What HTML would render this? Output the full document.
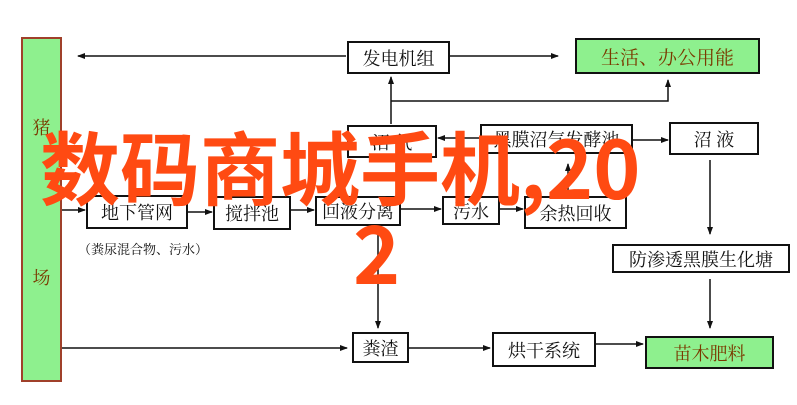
<!DOCTYPE html>
<html><head><meta charset="utf-8"><style>
body{margin:0;width:797px;height:405px;background:#fff;position:relative;overflow:hidden;font-family:"Liberation Serif","Noto Serif CJK SC",serif}
.b{position:absolute;border:2px solid #111;background:#fff;box-sizing:border-box;display:flex;align-items:center;justify-content:center;font-size:18px;color:#111;white-space:nowrap}
.g{background:#8ef08e;color:#7a3a00}
svg{position:absolute;left:0;top:0}
.ov{position:absolute;font-family:"Noto Sans CJK SC","WenQuanYi Zen Hei",sans-serif;font-weight:bold;color:#ff4a12;font-size:80px;line-height:1;white-space:nowrap}
</style></head><body>
<div class="b g" style="left:21px;top:37px;width:41px;height:345px;border-color:#a0402a;flex-direction:column;justify-content:flex-start"><span style="margin-top:75px">猪</span><span style="margin-top:124px">场</span></div>
<svg width="797" height="405">
<defs><marker id="a" markerWidth="8" markerHeight="8" refX="7" refY="4" orient="auto" markerUnits="userSpaceOnUse"><path d="M0,1 L8,4 L0,7z" fill="#111"/></marker></defs>
<g stroke="#111" stroke-width="1.5" fill="none" marker-end="url(#a)">
<line x1="346" y1="56" x2="78" y2="56"/>
<line x1="449" y1="56" x2="558" y2="56"/>
<line x1="391" y1="124" x2="391" y2="77"/>
<polyline points="391,101 668,101 668,80"/>
<line x1="480" y1="138" x2="438" y2="138"/>
<line x1="632" y1="140" x2="668" y2="140"/>
<line x1="710" y1="160" x2="710" y2="234"/>
<line x1="710" y1="279" x2="710" y2="328"/>
<line x1="62" y1="210" x2="85" y2="210"/>
<line x1="188" y1="212" x2="212" y2="212"/>
<line x1="291" y1="210" x2="314" y2="210"/>
<line x1="400" y1="209" x2="441" y2="209"/>
<line x1="500" y1="209" x2="523" y2="209"/>
<line x1="568" y1="196" x2="568" y2="164"/>
<line x1="378" y1="226" x2="378" y2="328"/>
<line x1="62" y1="348" x2="347" y2="348"/>
<line x1="409" y1="348" x2="490" y2="348"/>
<line x1="596" y1="344" x2="643" y2="344"/>
</g></svg>
<div class="b" style="left:347px;top:41px;width:103px;height:33px">发电机组</div>
<div class="b g" style="left:575px;top:38px;width:185px;height:36px;font-size:19px">生活、办公用能</div>
<div class="b" style="left:347px;top:125px;width:90px;height:33px">沼 气</div>
<div class="b" style="left:480px;top:124px;width:153px;height:30px">黑膜沼气发酵池</div>
<div class="b" style="left:669px;top:122px;width:90px;height:33px">沼 液</div>
<div class="b" style="left:86px;top:195px;width:102px;height:34px">地下管网</div>
<div class="b" style="left:213px;top:196px;width:78px;height:34px">搅拌池</div>
<div class="b" style="left:315px;top:196px;width:86px;height:30px">回液分离</div>
<div class="b" style="left:442px;top:196px;width:58px;height:29px">污水</div>
<div class="b" style="left:524px;top:196px;width:103px;height:33px">余热回收</div>
<div style="position:absolute;left:78px;top:239px;font-size:13px;color:#111">（粪尿混合物、污水）</div>
<div class="b" style="left:612px;top:244px;width:178px;height:29px">防渗透黑膜生化塘</div>
<div class="b" style="left:352px;top:332px;width:57px;height:31px">粪渣</div>
<div class="b" style="left:492px;top:332px;width:104px;height:35px">烘干系统</div>
<div class="b g" style="left:645px;top:336px;width:129px;height:33px">苗木肥料</div>
<div class="ov" style="left:40px;top:125px">数码商城手机,20</div>
<div class="ov" style="left:353px;top:210px">2</div>
</body></html>
